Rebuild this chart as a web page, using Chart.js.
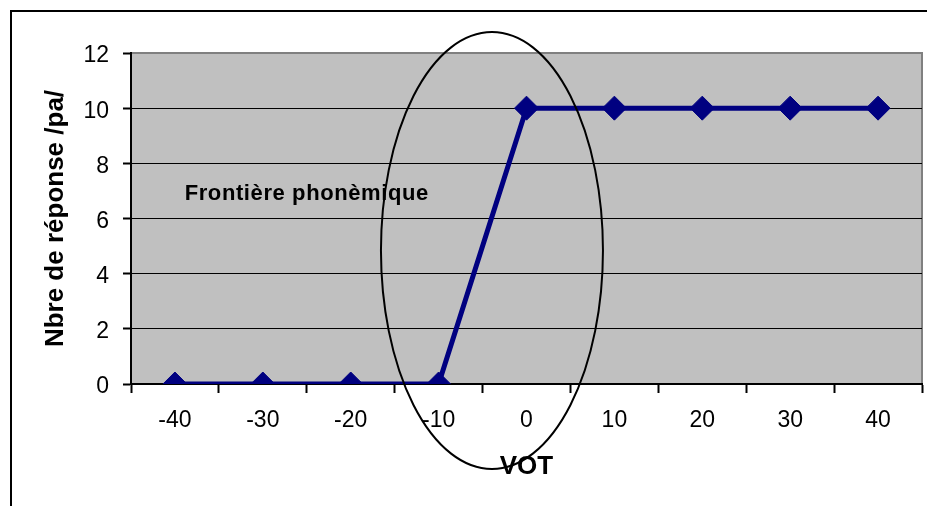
<!DOCTYPE html>
<html>
<head>
<meta charset="utf-8">
<script src="https://cdn.jsdelivr.net/npm/chart.js@4"></script>
<style>
    body { margin: 0; background: #fff; }
    #wrap { width: 927px; height: 506px; }
</style>
</head>
<body>
<div id="wrap"><canvas id="lineGraph"></canvas></div>
<script>
    //data
    var votLabels = ["-40", "-30", "-20", "-10", "0", "10", "20", "30", "40"];
    var paResponses = [0, 0, 0, 0, 10, 10, 10, 10, 10];
    var yTicks = [0, 2, 4, 6, 8, 10, 12];

    //colours
    var lineColor = "#000080";
    var plotGrey = "#c0c0c0";

    // ------- background, frame, note and ellipse -------
    var decorations = {
        id: "decorations",
        beforeDraw: function(chart) {
            var ctx = chart.ctx;
            var a = chart.chartArea;
            ctx.save();
            //outer frame (cut by the picture on right/bottom)
            ctx.strokeStyle = "#000";
            ctx.lineWidth = 2;
            ctx.strokeRect(11, 11, 1000, 1000);
            //plot area
            ctx.fillStyle = plotGrey;
            ctx.fillRect(a.left, a.top, a.right - a.left, a.bottom - a.top);
            ctx.strokeStyle = "#808080";
            ctx.lineWidth = 2;
            ctx.beginPath();
            ctx.moveTo(a.left, a.top);
            ctx.lineTo(a.right, a.top);
            ctx.lineTo(a.right, a.bottom);
            ctx.stroke();
            ctx.restore();
        },
        beforeDatasetsDraw: function(chart) {
            var ctx = chart.ctx;
            var x = chart.scales.x, y = chart.scales.y;
            ctx.save();
            ctx.fillStyle = "#000";
            ctx.font = "bold 22px 'Liberation Sans', Arial, sans-serif";
            ctx.letterSpacing = "0.6px";
            ctx.textAlign = "center";
            ctx.textBaseline = "middle";
            ctx.fillText("Frontière phonèmique", x.getPixelForValue(1.5), y.getPixelForValue(6.9));
            ctx.restore();
        },
        afterDraw: function(chart) {
            var ctx = chart.ctx;
            var x = chart.scales.x, y = chart.scales.y;
            var cx = x.getPixelForValue(3.607);
            var cy = y.getPixelForValue(4.84);
            var rx = x.getPixelForValue(3.607 + 1.263) - cx;
            var ry = cy - y.getPixelForValue(4.84 + 7.92);
            ctx.save();
            ctx.strokeStyle = "#000";
            ctx.lineWidth = 2;
            ctx.beginPath();
            ctx.ellipse(cx, cy, rx, ry, 0, 0, Math.PI * 2);
            ctx.stroke();
            ctx.restore();
        }
    };

    // ------- Line chart -------
    new Chart("lineGraph", {
        type: "line",
        data: {
            labels: votLabels,
            datasets: [{
                label: "Nbre de réponse /pa/",
                data: paResponses,
                borderColor: lineColor,
                backgroundColor: lineColor,
                borderWidth: 5,
                pointStyle: "rectRot",
                pointRadius: 12,
                pointHoverRadius: 12,
                pointBorderWidth: 1,
                pointBackgroundColor: lineColor,
                pointBorderColor: lineColor,
                tension: 0,
                fill: false
            }]
        },
        options: {
            responsive: true,
            maintainAspectRatio: false,
            animation: false,
            layout: {
                autoPadding: false,
                padding: { left: 10, top: 53, right: 5, bottom: 0 }
            },
            plugins: {
                legend: { display: false },
                tooltip: { enabled: false }
            },
            scales: {
                x: {
                    offset: true,
                    afterFit: function(scale) {
                        scale.height = 122;
                        scale.paddingLeft = 0;
                        scale.paddingRight = 0;
                    },
                    grid: {
                        offset: true,
                        drawOnChartArea: false,
                        drawTicks: true,
                        tickLength: 9,
                        tickWidth: 2,
                        tickColor: "#000"
                    },
                    border: { color: "#000", width: 2 },
                    ticks: {
                        color: "#000",
                        padding: 14,
                        maxRotation: 0,
                        font: { family: "'Liberation Sans', Arial, sans-serif", size: 23 }
                    },
                    title: {
                        display: true,
                        text: "VOT",
                        color: "#000",
                        padding: { bottom: 24 },
                        font: { family: "'Liberation Sans', Arial, sans-serif", size: 26, weight: "bold" }
                    }
                },
                y: {
                    min: 0,
                    max: 12,
                    afterFit: function(scale) {
                        scale.width = 121;
                        scale.paddingTop = 0;
                        scale.paddingBottom = 0;
                    },
                    afterBuildTicks: function(scale) {
                        scale.ticks = yTicks.map(function(v) { return { value: v }; });
                    },
                    grid: {
                        color: function(c) { return c.tick && c.tick.value === 12 ? "#808080" : "#000"; },
                        lineWidth: 1,
                        tickLength: 8,
                        tickWidth: 2,
                        tickColor: "#000"
                    },
                    border: { color: "#000", width: 2 },
                    ticks: {
                        color: "#000",
                        padding: 14,
                        labelOffset: 3,
                        font: { family: "'Liberation Sans', Arial, sans-serif", size: 23 }
                    },
                    title: {
                        display: true,
                        text: "Nbre de réponse /pa/",
                        color: "#000",
                        padding: { top: 30 },
                        font: { family: "'Liberation Sans', Arial, sans-serif", size: 26, weight: "bold" }
                    }
                }
            }
        },
        plugins: [decorations]
    });
</script>
</body>
</html>
